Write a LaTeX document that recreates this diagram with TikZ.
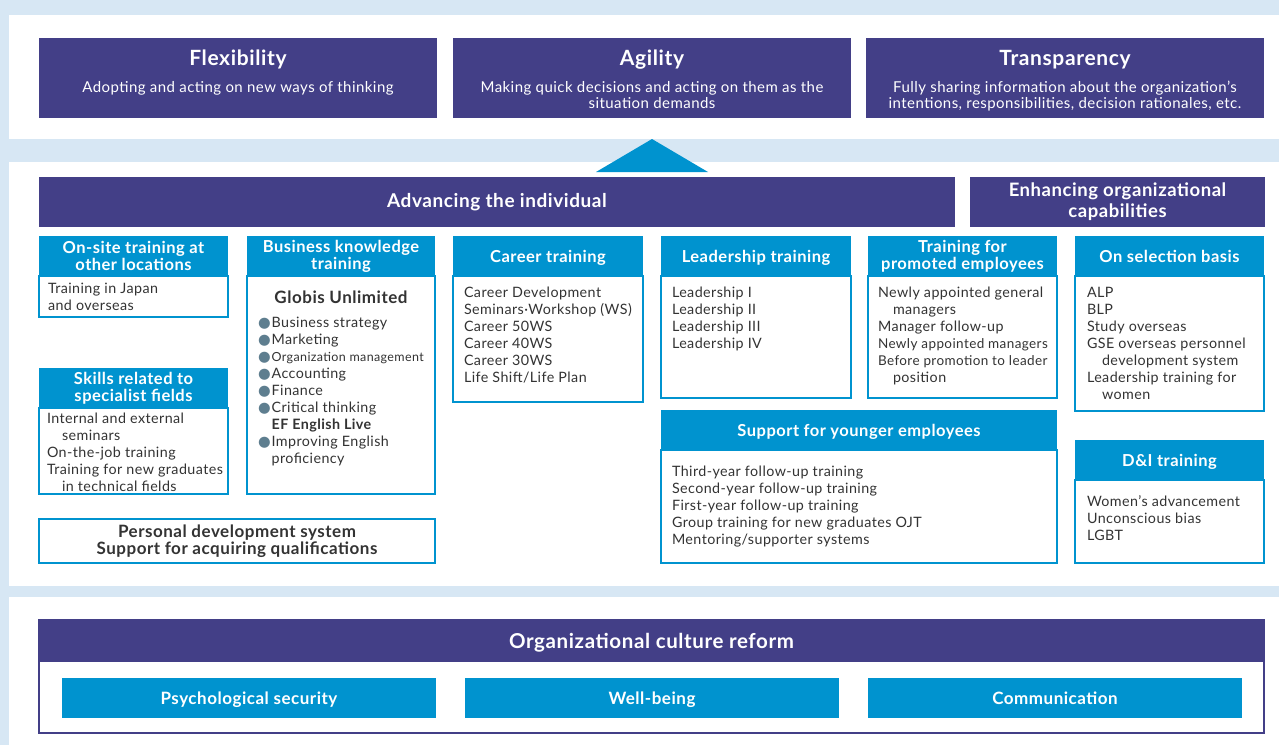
\documentclass[tikz,border=0pt]{standalone}
\usepackage{fontspec}
\setmainfont{Lato}[LetterSpace=3]
\newfontfamily\dejavu{DejaVu Sans}
\definecolor{bgblue}{HTML}{D7E7F4}
\definecolor{purp}{HTML}{433F87}
\definecolor{cyanb}{HTML}{0093CF}
\definecolor{txt}{HTML}{333333}
\definecolor{dotc}{HTML}{5E7E8F}
\newcommand{\bul}{{\dejavu\fontsize{14.5}{17}\selectfont\color{dotc}●}}
\newcommand{\ind}{\hspace*{15pt}}
\tikzset{
  panel/.style={fill=white, draw=none, anchor=north west, inner sep=0, outer sep=0},
  pbox/.style={fill=purp, draw=none, anchor=north west, inner sep=0, outer sep=0, text=white, align=center},
  hdr/.style={fill=cyanb, draw=none, anchor=north west, inner sep=0, outer sep=0, text=white, align=center,
    font=\bfseries\fontsize{16.5}{17}\selectfont},
  oneline/.style={text height=#1, text depth=0pt},
  oneline/.default=13pt,
  bodybox/.style={fill=white, draw=cyanb, line width=1.4pt, anchor=north west, inner sep=0, outer sep=0},
  btxt/.style={anchor=base west, inner sep=0, outer sep=0, text=txt, font=\fontsize{14.3}{17}\selectfont},
  ttl/.style={anchor=base, inner sep=0, text=white, font=\bfseries\fontsize{21}{24}\selectfont},
  subt/.style={anchor=base, inner sep=0, text=white, font=\fontsize{15}{16}\selectfont},
}
\begin{document}
\begin{tikzpicture}[x=1pt,y=-1pt]
\fill[bgblue] (0,0) rectangle (1279,745);
\useasboundingbox (0,0) rectangle (1279,745);
% panels
\node[panel, minimum width=1270, minimum height=124] (ptop) at (9,15) {};
\node[panel, minimum width=1270, minimum height=424] (pmid) at (9,162) {};
\node[panel, minimum width=1270, minimum height=148] (pbot) at (9,597) {};
% top values
\node[pbox, minimum width=398, minimum height=80] (flex) at (39,38) {};
\node[pbox, minimum width=398, minimum height=80] (agil) at (453,38) {};
\node[pbox, minimum width=398, minimum height=80] (tran) at (866,38) {};
\node[ttl] (flext) at (238,65) {Flexibility};
\node[ttl] (agilt) at (652,65) {Agility};
\node[ttl] (trant) at (1065,65) {Transparency};
\node[subt] (flexs) at (238,92) {Adopting and acting on new ways of thinking};
\node[subt] (agils) at (652,92) {\begin{tabular}[t]{@{}c@{}}Making quick decisions and acting on them as the\\situation demands\end{tabular}};
\node[subt] (trans) at (1065,92) {\begin{tabular}[t]{@{}c@{}}Fully sharing information about the organization’s\\intentions, responsibilities, decision rationales, etc.\end{tabular}};
% triangle
\fill[cyanb] (652,139) -- (708,172) -- (596,172) -- cycle;
% section headers
\node[pbox, oneline=10pt, minimum width=916, minimum height=50, font=\bfseries\fontsize{19}{21}\selectfont] (adv) at (39,177) {Advancing the individual};
\node[pbox, minimum width=295, minimum height=50, font=\bfseries\fontsize{18.5}{21}\selectfont] (enh) at (970,177) {Enhancing organizational\\capabilities};
% column 1
\node[bodybox, minimum width=189, minimum height=41] (b1) at (39,276) {};
\node[hdr, minimum width=189, minimum height=40] (h1) at (39,236) {On-site training at\\other locations};
\node[btxt] (t1) at (48,293) {\begin{tabular}[t]{@{}l@{}}Training in Japan\\and overseas\end{tabular}};
\node[bodybox, minimum width=189, minimum height=86] (b2) at (39,408) {};
\node[hdr, minimum width=189, minimum height=40] (h2) at (39,368) {Skills related to\\specialist fields};
\node[btxt] (t2) at (47,423) {\begin{tabular}[t]{@{}l@{}}Internal and external\\\ind seminars\\On-the-job training\\Training for new graduates\\\ind in technical fields\end{tabular}};
% column 2
\node[bodybox, minimum width=188, minimum height=218] (b3) at (247,276) {};
\node[hdr, minimum width=188, minimum height=40] (h3) at (247,236) {Business knowledge\\training};
\node[anchor=base, inner sep=0, text=txt, font=\bfseries\fontsize{17}{17}\selectfont] (glob) at (341,303) {Globis Unlimited};
\node[btxt] (t3) at (258,327) {\begin{tabular}[t]{@{}l@{\hspace{1pt}}l@{}}
\bul & Business strategy\\
\bul & Marketing\\
\bul & {\fontsize{12.5}{17}\selectfont Organization management}\\
\bul & Accounting\\
\bul & Finance\\
\bul & Critical thinking\\
 & \textbf{EF English Live}\\
\bul & Improving English\\
 & proficiency
\end{tabular}};
\node[bodybox, minimum width=396, minimum height=44, text=txt, align=center, font=\bfseries\fontsize{17}{17}\selectfont] (pers) at (39,519) {Personal development system\\Support for acquiring qualifications};
% column 3
\node[bodybox, minimum width=190, minimum height=126] (b4) at (453,276) {};
\node[hdr, oneline, minimum width=190, minimum height=40] (h4) at (453,236) {Career training};
\node[btxt] (t4) at (464,297) {\begin{tabular}[t]{@{}l@{}}Career Development\\Seminars·Workshop (WS)\\Career 50WS\\Career 40WS\\Career 30WS\\Life Shift/Life Plan\end{tabular}};
% column 4
\node[bodybox, minimum width=190, minimum height=122] (b5) at (661,276) {};
\node[hdr, oneline, minimum width=190, minimum height=40] (h5) at (661,236) {Leadership training};
\node[btxt] (t5) at (672,297) {\begin{tabular}[t]{@{}l@{}}Leadership I\\Leadership II\\Leadership III\\Leadership IV\end{tabular}};
% column 5
\node[bodybox, minimum width=189, minimum height=122] (b6) at (868,276) {};
\node[hdr, minimum width=189, minimum height=40] (h6) at (868,236) {Training for\\promoted employees};
\node[btxt] (t6) at (878,297) {\begin{tabular}[t]{@{}l@{}}Newly appointed general\\\ind managers\\Manager follow-up\\{\fontsize{13.5}{17}\selectfont Newly appointed managers}\\{\fontsize{13.5}{17}\selectfont Before promotion to leader}\\\ind position\end{tabular}};
% column 6
\node[bodybox, minimum width=189, minimum height=135] (b7) at (1075,276) {};
\node[hdr, oneline, minimum width=189, minimum height=40] (h7) at (1075,236) {On selection basis};
\node[btxt] (t7) at (1087,297) {\begin{tabular}[t]{@{}l@{}}ALP\\BLP\\Study overseas\\GSE overseas personnel\\\ind development system\\Leadership training for\\\ind women\end{tabular}};
% younger employees
\node[bodybox, minimum width=396, minimum height=113] (b8) at (661,450) {};
\node[hdr, oneline, minimum width=396, minimum height=40] (h8) at (661,410) {Support for younger employees};
\node[btxt] (t8) at (672,476) {\begin{tabular}[t]{@{}l@{}}Third-year follow-up training\\Second-year follow-up training\\First-year follow-up training\\Group training for new graduates OJT\\Mentoring/supporter systems\end{tabular}};
% D&I
\node[bodybox, minimum width=189, minimum height=83] (b9) at (1075,480) {};
\node[hdr, oneline, minimum width=189, minimum height=40] (h9) at (1075,440) {D\&I training};
\node[btxt] (t9) at (1087,506) {\begin{tabular}[t]{@{}l@{}}Women’s advancement\\Unconscious bias\\LGBT\end{tabular}};
% bottom
\node[anchor=north west, inner sep=0, outer sep=0, fill=white, draw=purp, line width=1.4pt, minimum width=1225, minimum height=113] (ocb) at (39,620) {};
\node[pbox, oneline=14pt, minimum width=1225, minimum height=42, font=\bfseries\fontsize{20.5}{21}\selectfont] (och) at (39,620) {Organizational culture reform};
\node[hdr, oneline=12pt, minimum width=374, minimum height=40, font=\bfseries\fontsize{17}{17}\selectfont] (ps) at (62,678) {Psychological security};
\node[hdr, oneline=12pt, minimum width=374, minimum height=40, font=\bfseries\fontsize{17}{17}\selectfont] (wb) at (465,678) {Well-being};
\node[hdr, oneline=12pt, minimum width=374, minimum height=40, font=\bfseries\fontsize{17}{17}\selectfont] (cm) at (868,678) {Communication};
\end{tikzpicture}
\end{document}
